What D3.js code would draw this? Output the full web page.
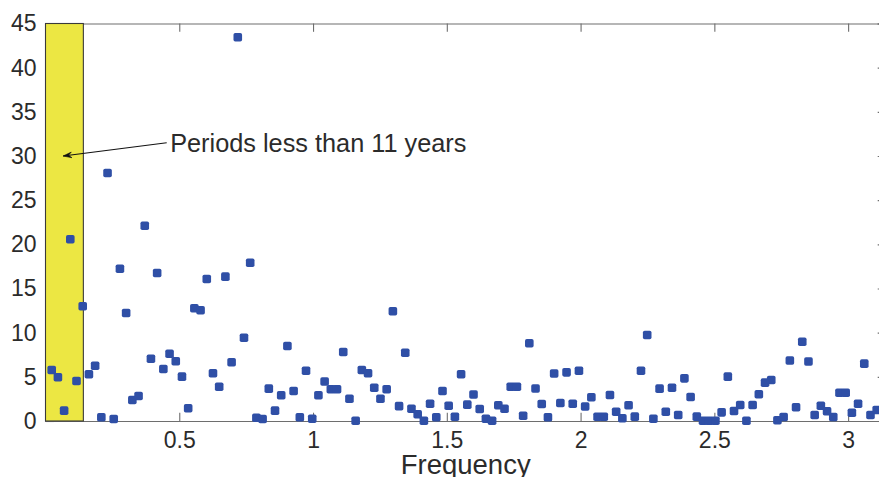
<!DOCTYPE html>
<html>
<head>
<meta charset="utf-8">
<script src="https://cdn.jsdelivr.net/npm/d3@7/dist/d3.min.js"></script>
<style>
  html, body { margin: 0; padding: 0; background: #ffffff; }
  svg { display: block; }
</style>
</head>
<body>
<svg id="chart" width="879" height="477"></svg>
<script>
// ---- data ----
const frequency = [
  0.0232,0.0464,0.0696,0.0927,0.1159,0.1391,0.1623,0.1855,0.2087,0.2319,
  0.2550,0.2782,0.3014,0.3246,0.3478,0.3710,0.3941,0.4173,0.4405,0.4637,
  0.4869,0.5101,0.5333,0.5564,0.5796,0.6028,0.6260,0.6492,0.6724,0.6956,
  0.7187,0.7419,0.7651,0.7883,0.8115,0.8347,0.8579,0.8810,0.9042,0.9274,
  0.9506,0.9738,0.9970,1.0201,1.0433,1.0665,1.0897,1.1129,1.1361,1.1593,
  1.1824,1.2056,1.2288,1.2520,1.2752,1.2984,1.3216,1.3447,1.3679,1.3911,
  1.4143,1.4375,1.4607,1.4839,1.5070,1.5302,1.5534,1.5766,1.5998,1.6230,
  1.6461,1.6693,1.6925,1.7157,1.7389,1.7621,1.7853,1.8084,1.8316,1.8548,
  1.8780,1.9012,1.9244,1.9476,1.9707,1.9939,2.0171,2.0403,2.0635,2.0867,
  2.1098,2.1330,2.1562,2.1794,2.2026,2.2258,2.2490,2.2721,2.2953,2.3185,
  2.3417,2.3649,2.3881,2.4113,2.4344,2.4576,2.4808,2.5040,2.5272,2.5504,
  2.5735,2.5967,2.6199,2.6431,2.6663,2.6895,2.7127,2.7358,2.7590,2.7822,
  2.8054,2.8286,2.8518,2.8750,2.8981,2.9213,2.9445,2.9677,2.9909,3.0141,
  3.0372,3.0604,3.0836,3.1068
];
const power = [
  5.77,4.95,1.17,20.57,4.53,12.99,5.29,6.26,0.42,28.08,
  0.23,17.24,12.23,2.38,2.83,22.11,7.05,16.76,5.89,7.62,
  6.76,5.02,1.44,12.76,12.53,16.08,5.40,3.88,16.34,6.65,
  43.44,9.43,17.92,0.37,0.23,3.66,1.17,2.91,8.49,3.40,
  0.42,5.69,0.25,2.91,4.47,3.59,3.59,7.81,2.52,0.03,
  5.77,5.40,3.77,2.52,3.59,12.43,1.68,7.73,1.38,0.77,
  0.03,1.95,0.43,3.40,1.73,0.48,5.30,1.85,3.00,1.36,
  0.25,0.03,1.78,1.38,3.88,3.88,0.59,8.80,3.68,1.92,
  0.43,5.38,2.04,5.51,1.95,5.69,1.64,2.69,0.48,0.48,
  2.94,1.05,0.31,1.78,0.49,5.69,9.74,0.26,3.66,1.05,
  3.77,0.68,4.83,2.72,0.49,0.03,0.03,0.03,0.98,5.02,
  1.13,1.81,0.03,1.81,3.02,4.34,4.64,0.08,0.45,6.85,
  1.55,8.97,6.74,0.68,1.72,1.10,0.45,3.20,3.20,0.94,
  1.96,6.49,0.68,1.25
];
const xTicks = [0.5, 1, 1.5, 2, 2.5, 3];
const yTicks = [0, 5, 10, 15, 20, 25, 30, 35, 40, 45];
const xDomain = [0, Math.PI];
const yDomain = [0, 45];
const bandEnd = 0.1415;              // edge of the shaded band (2*pi/44)
const xLabel = "Frequency";
const noteText = "Periods less than 11 years";
const noteFrom = [0.466, 31.5];       // text anchor (data units)
const arrowFrom = [0.453, 31.5];
const arrowTo = [0.066, 30.0];

(function () {
// ---- layout ----
const svg = d3.select("#chart");
const mL = 45.5, mR = 886, mT = 23.5, mB = 421;
const FONT = '"Liberation Sans", Arial, Helvetica, sans-serif';
const textColor = "#2b2b2b";
const axisColor = "#6e6e6e";
const dotColor = "#2f4fa6";
const bandColor = "#ece743";

const x = d3.scaleLinear().domain(xDomain).range([mL, mR]);
const y = d3.scaleLinear().domain(yDomain).range([mB, mT]);

const tick = 8.3;

const gB = svg.append("g").attr("transform", `translate(0,${mB})`)
  .call(d3.axisBottom(x).tickValues(xTicks).tickSize(-tick).tickPadding(10.5)
        .tickFormat(d3.format("")));
const gT = svg.append("g").attr("transform", `translate(0,${mT})`)
  .call(d3.axisTop(x).tickValues(xTicks).tickSize(-tick).tickFormat(""));
const gL = svg.append("g").attr("transform", `translate(${mL},0)`)
  .call(d3.axisLeft(y).tickValues(yTicks).tickSize(-tick).tickPadding(9)
        .tickFormat(d3.format("")));
const gR = svg.append("g").attr("transform", `translate(${mR},0)`)
  .call(d3.axisRight(y).tickValues(yTicks).tickSize(-tick).tickFormat(""));

[gB, gT, gL, gR].forEach(g => {
  g.selectAll(".domain").attr("stroke", axisColor).attr("stroke-width", 1.2);
  g.selectAll(".tick line").attr("stroke", axisColor).attr("stroke-width", 1.1);
  g.selectAll(".tick text").attr("fill", textColor)
    .style("font-family", FONT).style("font-size", "23px");
});

svg.append("rect")
  .attr("x", x(0)).attr("y", y(45))
  .attr("width", x(bandEnd) - x(0)).attr("height", y(0) - y(45))
  .attr("fill", bandColor).attr("stroke", "#3a3a3a").attr("stroke-width", 1.1);

svg.append("g").selectAll("rect").data(frequency.map((f, i) => [f, power[i]]))
  .join("rect")
  .attr("x", d => x(d[0]) - 4.3).attr("y", d => y(d[1]) - 4.3)
  .attr("width", 8.6).attr("height", 8.6).attr("rx", 1.8)
  .attr("fill", dotColor);

const ax0 = x(arrowFrom[0]), ay0 = y(arrowFrom[1]);
const ax1 = x(arrowTo[0]), ay1 = y(arrowTo[1]);
svg.append("line").attr("x1", ax0).attr("y1", ay0).attr("x2", ax1).attr("y2", ay1)
  .attr("stroke", "#111").attr("stroke-width", 1.1);
const ang = Math.atan2(ay0 - ay1, ax0 - ax1);
const hl = 9, hw = 0.32;
const p1 = [ax1 + hl * Math.cos(ang + hw), ay1 + hl * Math.sin(ang + hw)];
const p2 = [ax1 + hl * Math.cos(ang - hw), ay1 + hl * Math.sin(ang - hw)];
const pm = [ax1 + hl * 0.6 * Math.cos(ang), ay1 + hl * 0.6 * Math.sin(ang)];
svg.append("path")
  .attr("d", `M${p1[0]},${p1[1]}L${ax1},${ay1}L${p2[0]},${p2[1]}L${pm[0]},${pm[1]}Z`)
  .attr("fill", "#111").attr("stroke", "#111").attr("stroke-width", 0.6);

svg.append("text")
  .attr("x", x(noteFrom[0])).attr("y", y(noteFrom[1]))
  .attr("dy", "0.35em")
  .attr("fill", textColor)
  .style("font-family", FONT).style("font-size", "25.3px")
  .text(noteText);

svg.append("text")
  .attr("x", 465.7).attr("y", 473.5)
  .attr("text-anchor", "middle")
  .attr("fill", textColor)
  .style("font-family", FONT).style("font-size", "27.5px")
  .text(xLabel);
})();
</script>
</body>
</html>
